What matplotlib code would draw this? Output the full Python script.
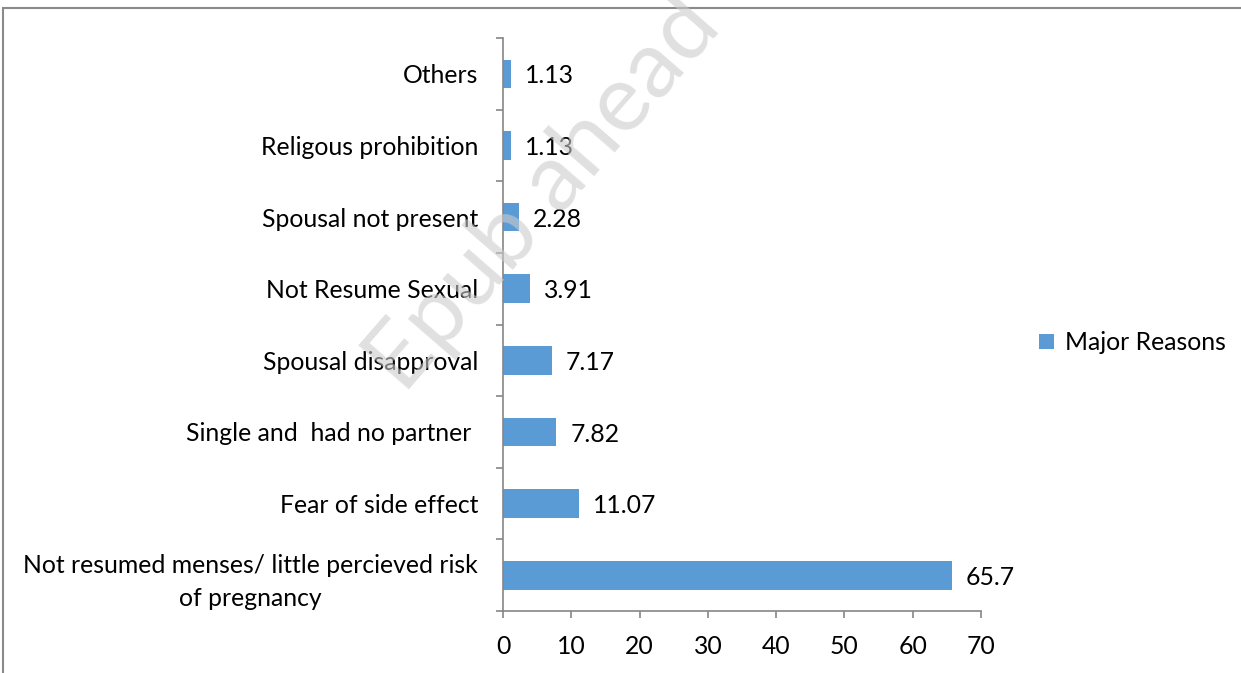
import numpy as np
import matplotlib.pyplot as plt
from matplotlib.patches import Rectangle

plt.rcParams['font.family'] = ['Lato', 'DejaVu Sans']

# data, bottom to top
reasons = ["Not resumed menses/ little percieved risk\nof pregnancy",
           "Fear of side effect",
           "Single and  had no partner ",
           "Spousal disapproval",
           "Not Resume Sexual",
           "Spousal not present",
           "Religous prohibition",
           "Others"]
values = [65.7, 11.07, 7.82, 7.17, 3.91, 2.28, 1.13, 1.13]
value_labels = ["65.7", "11.07", "7.82", "7.17", "3.91", "2.28", "1.13", "1.13"]
x_ticks = [0, 10, 20, 30, 40, 50, 60, 70]

bar_color = '#5B9BD5'
axis_color = '#868686'
fs = 17.8

fig = plt.figure(figsize=(12.41, 6.73), dpi=100)
ax = fig.add_axes([0.4053, 0.0921, 0.3852, 0.8514])

y = np.arange(len(reasons))
ax.barh(y, values, height=0.4, color=bar_color, label='Major Reasons', zorder=2)

for yi, v, lab in zip(y, values, value_labels):
    ax.annotate(lab, (v, yi), xytext=(10, -1.5), textcoords='offset points',
                ha='left', va='center', fontsize=fs, color='black')

ax.set_xlim(0, 70)
ax.set_ylim(-0.5, len(reasons) - 0.5)
ax.set_xticks(x_ticks)
ax.set_yticks(y)
ax.set_yticklabels(reasons)
for t in ax.get_yticklabels():
    t.set_multialignment('center')
    t.set_linespacing(1.5)
ax.set_yticks(np.arange(-0.5, len(reasons)), minor=True)

for s in ['top', 'right']:
    ax.spines[s].set_visible(False)
for s in ['left', 'bottom']:
    ax.spines[s].set_color(axis_color)
    ax.spines[s].set_linewidth(1.2)

ax.tick_params(axis='y', which='major', length=0, pad=18, labelsize=fs)
ax.tick_params(axis='y', which='minor', length=5, width=1.2, color=axis_color, direction='out')
ax.tick_params(axis='x', length=5, width=1.2, color=axis_color, direction='out', pad=12, labelsize=fs)

leg = ax.legend(loc='center left', bbox_to_anchor=(1.075, 0.468), frameon=False,
                fontsize=fs, handlelength=0.6, handleheight=0.6, handletextpad=0.45)

# chart border (cropped on the right and bottom)
fig.patches.append(Rectangle((3 / 1241, -0.1), 1.2, 1 - 8 / 673 + 0.1,
                             transform=fig.transFigure, fill=False,
                             edgecolor='#8a8a8a', linewidth=1.5))

# watermark
fig.text(0.438, 0.71, "Epub ahead", fontsize=68, color='#cccccc', alpha=0.6,
         rotation=49, ha='center', va='center', zorder=10)

fig.savefig('out.png', dpi=100)
